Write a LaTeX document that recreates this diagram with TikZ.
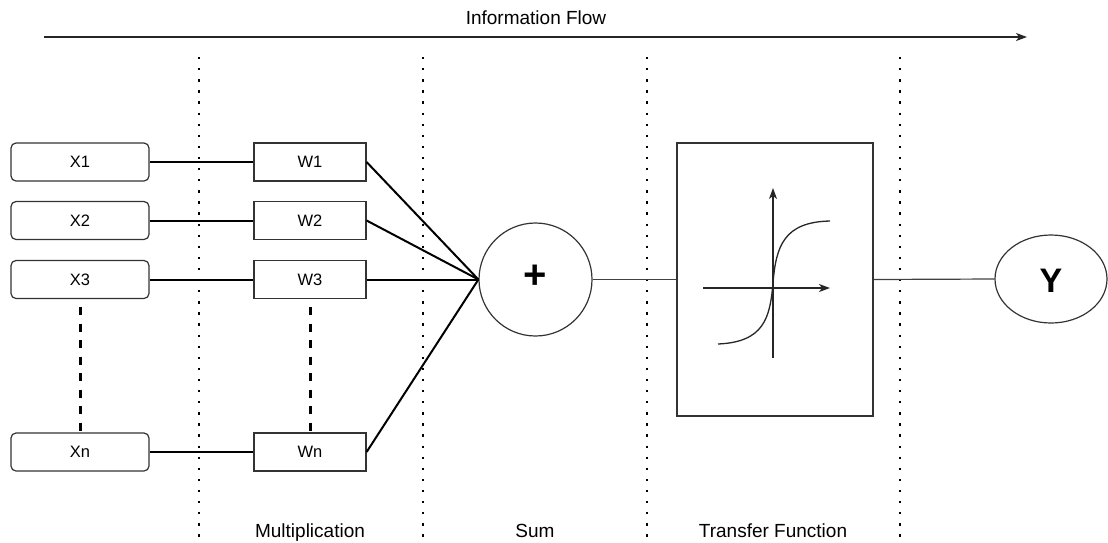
\documentclass[tikz,border=0pt]{standalone}
\usepackage{fontspec}
\setmainfont{Liberation Sans}
\usetikzlibrary{arrows.meta,shapes.geometric}

\tikzset{
  inbox/.style={draw=black!80, line width=1.2pt, rounded corners=5pt,
    minimum width=138pt, minimum height=38pt, inner sep=0pt,
    font=\fontsize{16.5}{18}\selectfont},
  wbox/.style={draw=black!80, line width=1.2pt,
    minimum width=112pt, minimum height=38pt, inner sep=0pt,
    font=\fontsize{16.5}{18}\selectfont},
  thickwire/.style={line width=2pt, black},
  thinwire/.style={line width=1.2pt, black!75},
  stage/.style={line width=2.3pt, black, dash pattern=on 2.3pt off 8.8pt},
  ellipsis/.style={line width=3pt, black, dash pattern=on 8pt off 8.5pt},
  caption/.style={font=\fontsize{19}{22}\selectfont, inner sep=0pt, anchor=base},
  tip/.style={-{Stealth[length=11pt,width=8pt,inset=3pt]}},
}

\begin{document}
\begin{tikzpicture}[x=1pt,y=-1pt]
\useasboundingbox (0,0) rectangle (1108,542);

% information flow arrow
\node[caption] (flowlabel) at (536,24) {Information Flow};
\coordinate (flowA) at (44,37);
\coordinate (flowB) at (1027,37);
\draw[line width=1.5pt, black!85, tip] (flowA) -- (flowB);

% stage separators
\foreach \sx/\nm in {199/a,423/b,647/c,900/d}{
  \coordinate (sep\nm top) at (\sx,57);
  \coordinate (sep\nm bot) at (\sx,542);
  \draw[stage] (sep\nm top) -- (sep\nm bot);
}

% inputs
\node[inbox] (x1) at (80,162) {X1};
\node[inbox] (x2) at (80,220.5) {X2};
\node[inbox] (x3) at (80,279.5) {X3};
\node[inbox] (xn) at (80,452) {Xn};

% weights
\node[wbox] (w1) at (310,162) {W1};
\node[wbox] (w2) at (310,220.5) {W2};
\node[wbox] (w3) at (310,279.5) {W3};
\node[wbox] (wn) at (310,452) {Wn};

\draw[ellipsis] (x3.south) ++(0,8) -- (xn.north);
\draw[ellipsis] (w3.south) ++(0,8) -- (wn.north);

\foreach \i in {1,2,3,n}{
  \draw[thickwire] (x\i.east) -- (w\i.west);
}

% summation
\node[circle, draw=black!80, line width=1.2pt, minimum size=113pt, inner sep=0pt] (sum) at (535.5,279.5) {};
\node[font=\bfseries\fontsize{40}{40}\selectfont, inner sep=0pt] (plus) at (535.5,277) {+};

\foreach \i in {1,2,3,n}{
  \draw[thickwire] (w\i.east) -- (sum.west);
}

% transfer function block
\node[draw=black!80, line width=1.2pt, minimum width=196pt, minimum height=273pt, inner sep=0pt] (tf) at (775,279.5) {};
\draw[thinwire] (sum.east) -- (tf.west);

% sigmoid sketch
\coordinate (vaxA) at (773,358);
\coordinate (vaxB) at (773,188);
\coordinate (haxA) at (703,288);
\coordinate (haxB) at (830,288);
\draw[line width=1.3pt, black!85, tip] (vaxA) -- (vaxB);
\draw[line width=1.3pt, black!85, tip] (haxA) -- (haxB);
\coordinate (sgA) at (718,344);
\coordinate (sgM) at (773,283);
\coordinate (sgB) at (830,221);
\draw[line width=1.3pt, black!85] (sgA) .. controls (764,342) and (770,318) .. (sgM)
  .. controls (776,246) and (784,222) .. (sgB);

% output
\node[ellipse, draw=black!80, line width=1.2pt, minimum width=112pt, minimum height=88pt, inner sep=0pt] (y) at (1051,279) {};
\node[font=\bfseries\fontsize{34}{34}\selectfont, inner sep=0pt] (ylabel) at (1051,281) {Y};
\draw[thinwire] (tf.east) -- (y.west);

% stage captions
\node[caption] (mult) at (310,537) {Multiplication};
\node[caption] (sumlabel) at (535,537) {Sum};
\node[caption] (tflabel) at (773,537) {Transfer Function};
\end{tikzpicture}
\end{document}
